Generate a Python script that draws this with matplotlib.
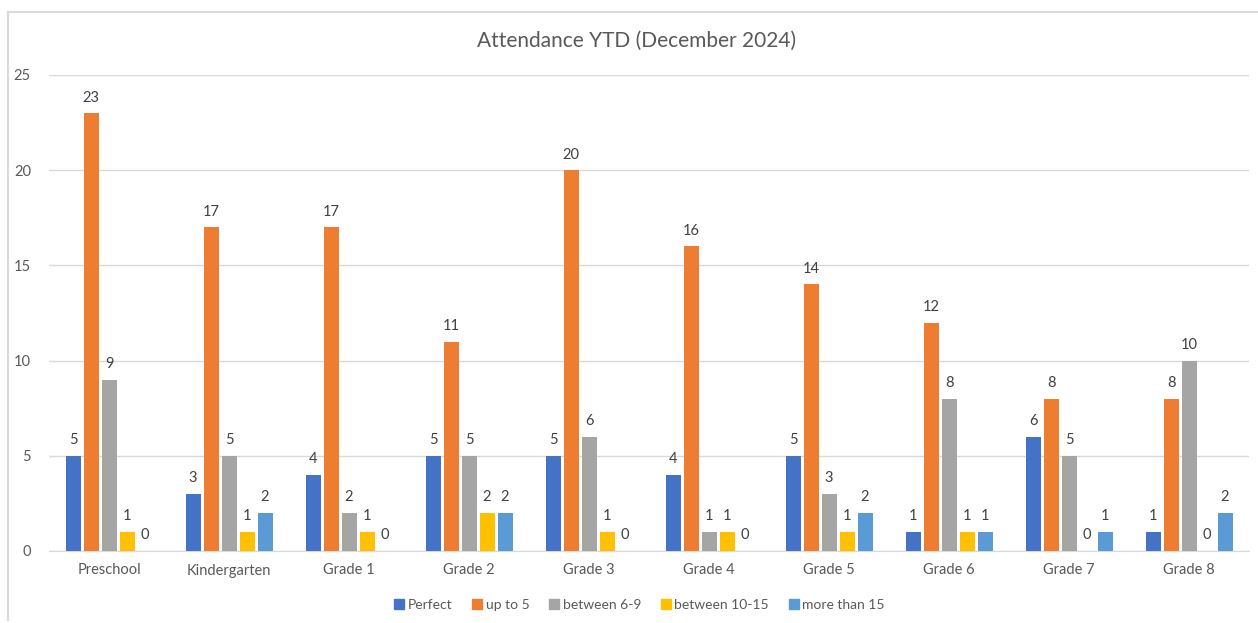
import matplotlib
matplotlib.use("Agg")
import matplotlib.pyplot as plt
from matplotlib.lines import Line2D
import numpy as np

categories = ["Preschool", "Kindergarten", "Grade 1", "Grade 2", "Grade 3",
              "Grade 4", "Grade 5", "Grade 6", "Grade 7", "Grade 8"]
series_names = ["Perfect", "up to 5", "between 6-9", "between 10-15", "more than 15"]
perfect = [5, 3, 4, 5, 5, 4, 5, 1, 6, 1]
up_to_5 = [23, 17, 17, 11, 20, 16, 14, 12, 8, 8]
between_6_9 = [9, 5, 2, 5, 6, 1, 3, 8, 5, 10]
between_10_15 = [1, 1, 1, 2, 1, 1, 1, 1, 0, 0]
more_than_15 = [0, 2, 0, 2, 0, 0, 2, 1, 1, 2]
colors = ["#4472C4", "#ED7D31", "#A5A5A5", "#FFC000", "#5B9BD5"]
yticks = [0, 5, 10, 15, 20, 25]

series = [perfect, up_to_5, between_6_9, between_10_15, more_than_15]

plt.rcParams['font.family'] = ['Lato', 'DejaVu Sans']
W, H = 1258, 623
fig = plt.figure(figsize=(W / 100, H / 100), dpi=100)
ax = fig.add_axes([49 / W, (H - 551) / H, 1200 / W, 476 / H])

x = np.arange(len(categories))
step = 0.15
width = 0.125
for i, (vals, c) in enumerate(zip(series, colors)):
    pos = x + (i - 2) * step
    ax.bar(pos, vals, width=width, color=c, zorder=3)
    for px, v in zip(pos, vals):
        ax.text(px, v + 0.45, str(v), ha='center', va='bottom',
                fontsize=10.5, color='#404040')

ax.set_xlim(-0.5, len(categories) - 0.5)
ax.set_ylim(0, 25)
ax.set_yticks(yticks)
ax.set_xticks(x)
ax.set_xticklabels(categories)
ax.grid(axis='y', color='#D9D9D9', linewidth=1, zorder=0)
for s in ['top', 'right', 'left']:
    ax.spines[s].set_visible(False)
ax.spines['bottom'].set_color('#D9D9D9')
ax.tick_params(axis='both', length=0, labelsize=10.5, colors='#595959')
ax.tick_params(axis='y', pad=13)
ax.tick_params(axis='x', pad=9)

fig.text(637 / W, 1 - 41 / H, "Attendance YTD (December 2024)", ha='center', va='center',
         fontsize=15, color='#595959')

handles = [Line2D([0], [0], marker='s', linestyle='none', markersize=6.5,
                  markerfacecolor=c, markeredgecolor=c) for c in colors]
fig.legend(handles, series_names, loc='center', bbox_to_anchor=(640 / W, 1 - 605 / H),
           ncol=5, frameon=False, fontsize=10, handletextpad=0.3, columnspacing=1.5,
           handlelength=0.6, labelcolor='#595959')

# chart border (left and top visible)
fig.add_artist(Line2D([8 / W, 8 / W], [1 - 12 / H, 1 - 620 / H], color='#D9D9D9', lw=1.5,
                      transform=fig.transFigure))
fig.add_artist(Line2D([8 / W, 1], [1 - 12 / H, 1 - 12 / H], color='#D9D9D9', lw=1.5,
                      transform=fig.transFigure))

fig.savefig("out.png", dpi=100)
